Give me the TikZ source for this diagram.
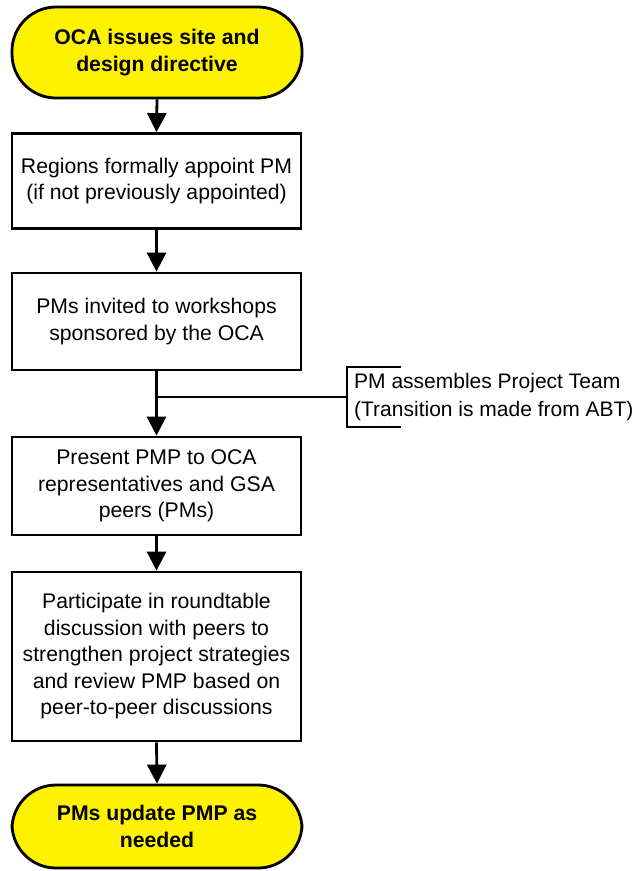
\documentclass[tikz,border=0pt]{standalone}
\usepackage{fontspec}
\setmainfont{Liberation Sans}
\usetikzlibrary{arrows.meta,positioning}
\tikzset{
  term/.style={draw=black, line width=2.8pt, fill=yellow, rounded corners=44pt,
    minimum width=290pt, align=center, font=\fontsize{21.2}{26.5}\selectfont\bfseries, inner sep=0pt},
  procbox/.style={draw=black, line width=2.8pt, fill=white, minimum width=289pt,
    align=center, font=\fontsize{21.2}{26.5}\selectfont, inner sep=0pt},
  flow/.style={line width=2.8pt, -{Triangle[width=19pt,length=19pt]}},
  thin line/.style={line width=2.2pt},
  note/.style={align=left, anchor=west, font=\fontsize{21}{28}\selectfont, inner sep=0pt}
}
\begin{document}
\begin{tikzpicture}[x=1pt,y=-1pt]
\useasboundingbox (0,0) rectangle (641,871);
\node[term, minimum height=91pt] (start) at (157,52.5) {OCA issues site and\\design directive};
\node[procbox, minimum height=95pt] (b1) at (156.5,181) {Regions formally appoint PM\\(if not previously appointed)};
\node[procbox, minimum height=97pt] (b2) at (156.5,321.5) {PMs invited to workshops\\sponsored by the OCA};
\node[procbox, minimum height=98pt] (b3) at (156.5,486) {Present PMP to OCA\\representatives and GSA\\peers (PMs)};
\node[procbox, minimum height=169pt] (b4) at (156.5,656.5) {Participate in roundtable\\discussion with peers to\\strengthen project strategies\\and review PMP based on\\peer-to-peer discussions};
\node[term, minimum height=83pt] (end) at (157,826.5) {PMs update PMP as\\needed};
\node[note] (note) at (354,397) {PM assembles Project Team\\(Transition is made from ABT)};
\coordinate (j) at (157,397);
\coordinate (bt) at (401,367);
\coordinate (bm) at (347,397);
\coordinate (bb) at (401,427);
\draw[flow] (start.south) -- (b1.north);
\draw[flow] (b1.south) -- (b2.north);
\draw[flow] (b2.south) -- (b3.north);
\draw[flow] (b3.south) -- (b4.north);
\draw[flow] (b4.south) -- (end.north);
\draw[thin line] (j) -- (bm);
\draw[thin line] (bt) -- (bt -| bm) -- (bb -| bm) -- (bb);
\end{tikzpicture}
\end{document}
